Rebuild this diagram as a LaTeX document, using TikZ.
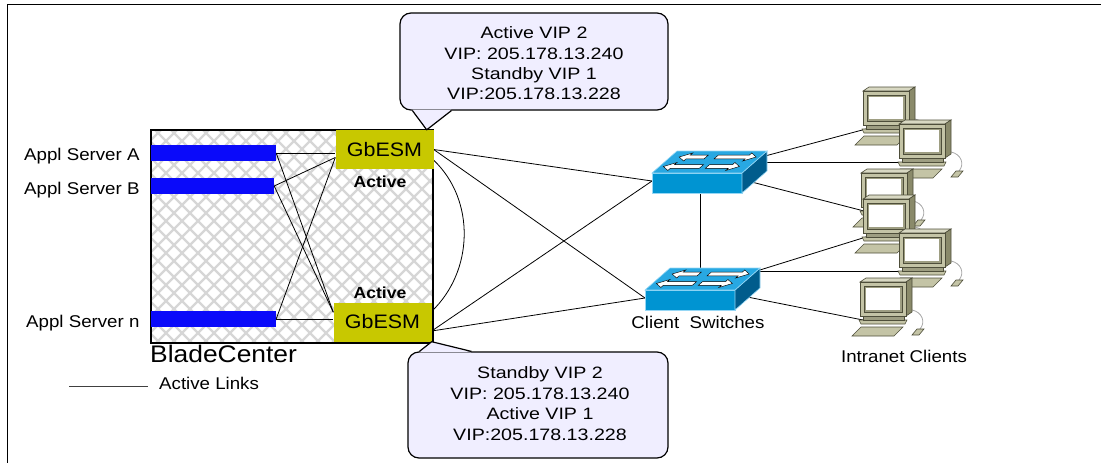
\documentclass[tikz,border=0pt]{standalone}
\usepackage{fontspec}
\setmainfont{Liberation Sans}[FakeStretch=1.1]
\newfontfamily\calloutfont{Liberation Sans}[FakeStretch=1.19]
\usetikzlibrary{calc}

\pgfdeclarelayer{wires}
\pgfsetlayers{wires,main}

\definecolor{gbfill}{RGB}{200,200,0}
\definecolor{callfill}{RGB}{240,238,255}
\definecolor{barblue}{RGB}{10,10,250}
\definecolor{hatchgray}{RGB}{214,214,214}
\definecolor{swtopc}{RGB}{40,168,226}
\definecolor{swfrontc}{RGB}{0,148,210}
\definecolor{swsidec}{RGB}{0,92,140}
\definecolor{swedge}{RGB}{150,215,245}
\definecolor{pcfrontc}{RGB}{196,196,166}
\definecolor{pctopc}{RGB}{216,216,194}
\definecolor{pcsidec}{RGB}{138,138,106}
\definecolor{pcbevelc}{RGB}{158,158,130}
\definecolor{pcline}{RGB}{78,78,58}

% white arrows on the top face of a switch (from, to, row)
\newcommand\swArrowR[3]{\filldraw[swarrow] (#1,#3+1.8) -- (#2-9,#3+1.8) -- (#2-9,#3+4) -- (#2,#3) -- (#2-9,#3-4) -- (#2-9,#3-1.8) -- (#1,#3-1.8) -- cycle;}
\newcommand\swArrowL[3]{\filldraw[swarrow] (#2,#3+1.8) -- (#1+9,#3+1.8) -- (#1+9,#3+4) -- (#1,#3) -- (#1+9,#3-4) -- (#1+9,#3-1.8) -- (#2,#3-1.8) -- cycle;}

\tikzset{
  txt/.style={inner sep=0pt, font=\fontsize{17}{20}\selectfont},
  actlabel/.style={inner sep=0pt, font=\fontsize{16}{19}\selectfont\bfseries},
  bctext/.style={inner sep=0pt, font=\fontsize{24}{28}\selectfont},
  gbesm/.style={fill=gbfill, minimum width=98, minimum height=39, inner sep=0pt,
    font=\fontsize{19.5}{22}\selectfont},
  serverbar/.style={fill=barblue, minimum height=16, inner sep=0pt},
  bladebox/.style={fill=white, minimum width=282, minimum height=213, inner sep=0pt},
  hatch/.style={draw=hatchgray, line width=2.2},
  link/.style={draw=black, line width=0.8},
  legendline/.style={draw=black!75, line width=1},
  callbox/.style={draw=black, line width=1.2, fill=callfill, rounded corners=11, inner sep=0pt},
  calltext/.style={inner sep=0pt, align=center, font=\calloutfont\fontsize{16.5}{20.4}\selectfont},
  swarrow/.style={fill=white, draw=black, line width=0.45},
  pcpart/.style={draw=pcline, line width=0.6, fill=pcfrontc},
  pics/netswitch/.style={code={
    \filldraw[fill=swfrontc, draw=swedge, line width=0.6] (0,0) rectangle (90,20);
    \filldraw[fill=swsidec, draw=swedge, line width=0.6] (90,0) -- (115,-22) -- (115,-2) -- (90,20) -- cycle;
    \filldraw[fill=swtopc, draw=swedge, line width=0.6] (0,0) -- (25,-22) -- (115,-22) -- (90,0) -- cycle;
    \begin{scope}[xslant=1.136]
      \swArrowL{9}{36}{-16}
      \swArrowR{46}{86}{-16}
      \swArrowL{4}{42}{-6.5}
      \swArrowR{48}{80}{-6.5}
    \end{scope}
    \coordinate (-w) at (0,8);
    \coordinate (-c) at (57,-2);
    \coordinate (-s) at (48,20);
  }},
  pics/desktop/.style={code={
    \draw[draw=black!35, line width=0.8] (52,32) .. controls (62,34) and (66,44) .. (60,51);
    \filldraw[pcpart] (52,57) -- (59,57) -- (64,51) -- (57,51) -- cycle;
    \filldraw[pcpart] (-8,58) -- (34,58) -- (43,49) -- (1,49) -- cycle;
    \filldraw[pcpart] (-1,42) -- (47,42) -- (45,46) -- (1,46) -- cycle;
    \filldraw[pcpart, fill=pcbevelc] (3,38) rectangle (44,42);
    \filldraw[pcpart, fill=pctopc] (0,4) -- (6,0) -- (52,0) -- (46,4) -- cycle;
    \filldraw[pcpart, fill=pcsidec] (46,4) -- (52,0) -- (52,34) -- (46,38) -- cycle;
    \filldraw[pcpart] (0,4) rectangle (46,38);
    \filldraw[pcpart, fill=pcbevelc] (4,8) rectangle (42,34);
    \fill[white] (6,10) rectangle (40,32);
    \coordinate (-port) at (3,42);
  }}
}

\begin{document}
\begin{tikzpicture}[x=1pt, y=-1pt]
\useasboundingbox (0,0) rectangle (1101,463);

% page frame
\draw[line width=1.4] (7.5,463) -- (7.5,4.5) -- (1101,4.5);

% BladeCenter chassis with its cross-hatched face
\node[bladebox] (bc) at (292,236.5) {};
\begin{scope}
  \clip (bc.south west) rectangle (bc.north east);
  \foreach \x in {-90,-74,...,680} {
    \draw[hatch] (\x,125) -- ++(240,240);
    \draw[hatch] (\x,125) -- ++(-240,240);
  }
\end{scope}
\draw[line width=1.8] (bc.south west) rectangle (bc.north east);
\node[bctext, anchor=base west] (bcname) at (150,362) {BladeCenter};

% application server blades
\node[serverbar, minimum width=125] (barA) at (213.5,153) {};
\node[serverbar, minimum width=123] (barB) at (212.5,186) {};
\node[serverbar, minimum width=125] (barN) at (213.5,319) {};
\node[txt, anchor=base west] (srvA) at (24,160) {Appl Server A};
\node[txt, anchor=base west] (srvB) at (24,194) {Appl Server B};
\node[txt, anchor=base west] (srvN) at (26,327) {Appl Server n};

% switch modules
\node[gbesm] (gbT) at (384.5,149.5) {GbESM};
\node[gbesm] (gbB) at (382.5,322) {GbESM};
\node[actlabel, anchor=base] (actT) at (380,187) {Active};
\node[actlabel, anchor=base] (actB) at (380,298) {Active};

\coordinate (gbTin) at ($(gbT.west)+(0,8)$);
\coordinate (gbBin) at ($(gbB.north west)+(0,10)$);
\coordinate (gbBout) at ($(gbB.east)+(0,9)$);
\coordinate (gbTarc) at ($(gbT.south east)+(0,-9)$);
\coordinate (gbBarc) at ($(gbB.north east)+(0,9)$);

% blade to module links
\draw[link] (barA.east) -- (barA.east -| gbT.west);
\draw[link] (barA.east) -- (gbBin);
\draw[link] (barB.east) -- (gbTin);
\draw[link] (barB.east) -- (gbBin);
\draw[link] (barN.east) -- (gbTin);
\draw[link] (barN.east) -- (barN.east -| gbB.west);

% client switches and intranet clients
\pic (sw1) at (652,173) {netswitch};
\pic (sw2) at (645,290) {netswitch};
\node[txt, anchor=base] (cs) at (698,328) {Client~~Switches};

\pic (pc1) at (863,87) {desktop};
\pic (pc2) at (899,120) {desktop};
\pic (pc3) at (861,169) {desktop};
\pic (pc4) at (863,195) {desktop};
\pic (pc5) at (899,229) {desktop};
\pic (pc6) at (860,278) {desktop};
\node[txt, anchor=base] (ic) at (904,362) {Intranet Clients};

% uplinks and client links, kept underneath the icons
\begin{pgfonlayer}{wires}
  \draw[link] (gbT.east) -- (sw1-w);
  \draw[link] (gbT.east) -- (sw2-w);
  \draw[link] (gbBout) -- (sw1-w);
  \draw[link] (gbBout) -- (sw2-w);
  \draw[link] (gbTarc) .. controls ($(gbTarc)+(42,40)$) and ($(gbBarc)+(42,-40)$) .. (gbBarc);
  \draw[link] (sw1-s) -- (sw1-s |- sw2-c);
  \draw[link] (sw1-c) -- (pc1-port);
  \draw[link] (pc2-port) -- (pc2-port -| sw1-c);
  \draw[link] (sw1-c) -- (pc3-port);
  \draw[link] (sw2-c) -- (pc4-port);
  \draw[link] (pc5-port) -- (pc5-port -| sw2-c);
  \draw[link] (sw2-c) -- (pc6-port);
\end{pgfonlayer}

% VIP callouts
\node[callbox, minimum width=268, minimum height=97] (vipT) at (534,61.5) {};
\coordinate (tipT) at ($(gbT.north east)+(-7,0)$);
\fill[callfill] ([xshift=13pt,yshift=1pt]vipT.south west) -- (tipT) -- ([xshift=52pt,yshift=1pt]vipT.south west) -- cycle;
\draw[line width=1.2, line join=round] ([xshift=13pt]vipT.south west) -- (tipT) -- ([xshift=52pt]vipT.south west);
\node[calltext] (vipTtxt) at (534,63.5) {Active VIP 2\\VIP: 205.178.13.240\\Standby VIP 1\\VIP:205.178.13.228};

\node[callbox, minimum width=260, minimum height=106] (vipB) at (538,405) {};
\coordinate (tipB) at (gbB.south east);
\fill[callfill] ([xshift=12pt,yshift=-1pt]vipB.north west) -- (tipB) -- ([xshift=64pt,yshift=-1pt]vipB.north west) -- cycle;
\draw[line width=1.2, line join=round] ([xshift=12pt]vipB.north west) -- (tipB) -- ([xshift=64pt]vipB.north west);
\node[calltext] (vipBtxt) at (540,403.5) {Standby VIP 2\\VIP: 205.178.13.240\\Active VIP 1\\VIP:205.178.13.228};

% legend
\coordinate (legL) at (69,386);
\coordinate (legR) at (148,386);
\draw[legendline] (legL) -- (legR);
\node[txt, anchor=base west] (legtxt) at (159,389) {Active Links};
\end{tikzpicture}
\end{document}
